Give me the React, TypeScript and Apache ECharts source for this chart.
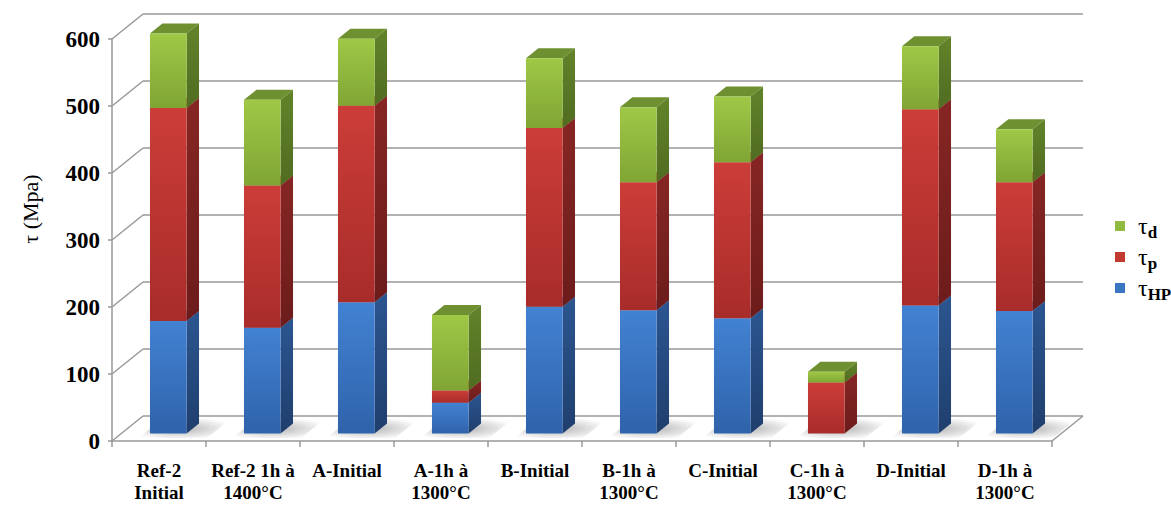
import React, { useEffect, useRef } from 'react';
import * as echarts from 'echarts';

const categories = [
  'Ref-2\nInitial', 'Ref-2 1h à\n1400°C', 'A-Initial', 'A-1h à\n1300°C', 'B-Initial',
  'B-1h à\n1300°C', 'C-Initial', 'C-1h à\n1300°C', 'D-Initial', 'D-1h à\n1300°C',
];
const tauHP = [168, 158, 196, 46, 189, 184, 172, 0, 191, 183];
const tauP = [318, 212, 293, 18, 267, 191, 233, 76, 293, 192];
const tauD = [111, 128, 100, 113, 104, 112, 98, 16, 94, 79];
const yTicks = [0, 100, 200, 300, 400, 500, 600];
const legendNames = ['τd', 'τp', 'τHP'];
const legendSubs: Record<string, string> = { 'τd': 'd', 'τp': 'p', 'τHP': 'HP' };

const DX = 31;
const DY = -25;
const BAR_FRONT = 0.3;
const BAR_BACK = 0.7;
const BAR_W = 0.39;
const SERIF = 'Liberation Serif';

type Pal = { front: [string, string]; side: [string, string]; top: string };
const bluePal: Pal = { front: ['#4282d2', '#2f63ab'], side: ['#2c5590', '#1f3f6d'], top: '#5a93d8' };
const redPal: Pal = { front: ['#cc3d38', '#a82c2a'], side: ['#862624', '#6c1c1b'], top: '#b8403c' };
const greenPal: Pal = { front: ['#9fc846', '#80a534'], side: ['#62832a', '#506c21'], top: '#6f9030' };

const lg = (a: string, b: string) =>
  new echarts.graphic.LinearGradient(0, 0, 0, 1, [
    { offset: 0, color: a },
    { offset: 1, color: b },
  ]);

const makeBar = (pal: Pal) => (params: any, api: any) => {
  const cat = api.value(0);
  const base = api.value(1);
  const top = api.value(2);
  if (top - base <= 0) return { type: 'group', children: [] };
  const pb = api.coord([cat, base]);
  const pt = api.coord([cat, top]);
  const w = api.size([1, 0])[0] * BAR_W;
  const x0 = pb[0] + DX * BAR_FRONT - w / 2;
  const x1 = x0 + w;
  const yb = pb[1] + DY * BAR_FRONT;
  const yt = pt[1] + DY * BAR_FRONT;
  const bx = DX * (BAR_BACK - BAR_FRONT);
  const by = DY * (BAR_BACK - BAR_FRONT);
  return {
    type: 'group',
    children: [
      {
        type: 'polygon',
        shape: { points: [[x0, yt], [x1, yt], [x1 + bx, yt + by], [x0 + bx, yt + by]] },
        style: { fill: pal.top },
      },
      {
        type: 'polygon',
        shape: { points: [[x1, yb], [x1 + bx, yb + by], [x1 + bx, yt + by], [x1, yt]] },
        style: { fill: lg(pal.side[0], pal.side[1]) },
      },
      {
        type: 'rect',
        shape: { x: x0, y: yt, width: w, height: yb - yt },
        style: { fill: lg(pal.front[0], pal.front[1]) },
      },
    ],
  };
};

const frameItem = (params: any, api: any) => {
  const v = api.value(1);
  const size = api.size([1, 0])[0];
  const p = api.coord([0, v]);
  const xl = p[0] - size / 2;
  const children: any[] = [
    {
      type: 'line',
      shape: { x1: xl, y1: p[1], x2: xl + DX, y2: p[1] + DY },
      style: { stroke: '#999', lineWidth: 1.5 },
    },
  ];
  if (params.dataIndex === 0) {
    const pr = api.coord([categories.length - 1, 0]);
    const xr = pr[0] + size / 2;
    children.push({
      type: 'line',
      shape: { x1: xr, y1: pr[1], x2: xr + DX, y2: pr[1] + DY },
      style: { stroke: '#999', lineWidth: 1.5 },
    });
  }
  return { type: 'group', children };
};

const shadowItem = (params: any, api: any) => {
  const cat = api.value(0);
  const p = api.coord([cat, 0]);
  const w = api.size([1, 0])[0] * BAR_W;
  const x0 = p[0] + DX * 0.2 - w / 2 - 6;
  const x1 = p[0] + DX * 0.2 + w / 2 + 26;
  const f = 0.12, b = 0.88;
  return {
    type: 'polygon',
    shape: {
      points: [
        [x0 + DX * (f - 0.2), p[1] + DY * f],
        [x1 + DX * (f - 0.2), p[1] + DY * f],
        [x1 + DX * (b - 0.2), p[1] + DY * b],
        [x0 + DX * (b - 0.2), p[1] + DY * b],
      ],
    },
    style: {
      fill: new echarts.graphic.RadialGradient(0.45, 0.5, 0.6, [
        { offset: 0, color: 'rgba(0,0,0,0.30)' },
        { offset: 1, color: 'rgba(0,0,0,0)' },
      ]),
    },
  };
};

export default function App() {
  const ref = useRef<HTMLDivElement>(null);
  useEffect(() => {
    if (!ref.current) return;
    const chart = echarts.init(ref.current, undefined, { renderer: 'svg' });
    const redBase = tauHP.map((v) => v);
    const greenBase = tauHP.map((v, i) => v + tauP[i]);
    chart.setOption({
      animation: false,
      backgroundColor: '#ffffff',
      textStyle: { fontFamily: SERIF },
      grid: [
        { left: 112, top: 39, width: 940, height: 402 },
        { left: 143, top: 14, width: 940, height: 402 },
      ],
      xAxis: [
        {
          type: 'category',
          gridIndex: 0,
          data: categories,
          axisLine: { show: true, lineStyle: { color: '#999', width: 1.5 } },
          axisTick: { show: true, length: 6, lineStyle: { color: '#999', width: 1.5 } },
          axisLabel: {
            interval: 0,
            margin: 18,
            fontFamily: SERIF,
            fontWeight: 'bold',
            fontSize: 19,
            lineHeight: 22,
            color: '#000',
          },
          splitLine: { show: false },
        },
        { type: 'category', gridIndex: 1, data: categories, show: false },
      ],
      yAxis: [
        {
          type: 'value',
          gridIndex: 0,
          min: 0,
          max: 600,
          interval: 100,
          axisLine: { show: true, lineStyle: { color: '#999', width: 1.5 } },
          axisTick: { show: true, length: 4, lineStyle: { color: '#999', width: 1.5 } },
          axisLabel: {
            margin: 12,
            fontFamily: SERIF,
            fontWeight: 'bold',
            fontSize: 23,
            color: '#000',
          },
          splitLine: { show: false },
        },
        {
          type: 'value',
          gridIndex: 1,
          min: 0,
          max: 600,
          interval: 100,
          axisLine: { show: false },
          axisTick: { show: false },
          axisLabel: { show: false },
          splitLine: { show: true, lineStyle: { color: '#999', width: 1.5 } },
        },
      ],
      legend: {
        data: legendNames,
        orient: 'vertical',
        left: 1110,
        top: 209,
        icon: 'rect',
        itemWidth: 10,
        itemHeight: 10,
        itemGap: 4,
        selectedMode: false,
        formatter: (name: string) => `{t|τ}{s|${legendSubs[name]}}`,
        textStyle: {
          fontFamily: SERIF,
          color: '#000',
          rich: {
            t: { fontFamily: SERIF, fontSize: 24, lineHeight: 30, verticalAlign: 'middle', padding: [0, 0, 0, 8], color: '#000' },
            s: { fontFamily: SERIF, fontSize: 17, fontWeight: 'bold', lineHeight: 14, verticalAlign: 'bottom', color: '#000' },
          },
        },
      },
      graphic: [
        {
          type: 'text',
          x: 30,
          y: 209,
          rotation: Math.PI / 2,
          style: {
            text: 'τ (Mpa)',
            fontFamily: SERIF,
            fontSize: 22,
            fill: '#000',
            align: 'center',
            verticalAlign: 'middle',
          },
        },
      ],
      series: [
        {
          type: 'custom',
          name: 'frame',
          xAxisIndex: 0,
          yAxisIndex: 0,
          silent: true,
          z: 1,
          renderItem: frameItem,
          encode: { x: 0, y: 1 },
          data: yTicks.map((v) => [0, v]),
        },
        {
          type: 'custom',
          name: 'shadow',
          xAxisIndex: 0,
          yAxisIndex: 0,
          silent: true,
          z: 2,
          renderItem: shadowItem,
          encode: { x: 0, y: 1 },
          data: categories.map((c, i) => [i, 0]),
        },
        {
          type: 'custom',
          name: 'τHP',
          xAxisIndex: 0,
          yAxisIndex: 0,
          z: 3,
          itemStyle: { color: '#3a75c4' },
          renderItem: makeBar(bluePal),
          encode: { x: 0, y: [1, 2] },
          data: tauHP.map((v, i) => [i, 0, v]),
        },
        {
          type: 'custom',
          name: 'τp',
          xAxisIndex: 0,
          yAxisIndex: 0,
          z: 4,
          itemStyle: { color: '#c0392f' },
          renderItem: makeBar(redPal),
          encode: { x: 0, y: [1, 2] },
          data: tauP.map((v, i) => [i, redBase[i], redBase[i] + v]),
        },
        {
          type: 'custom',
          name: 'τd',
          xAxisIndex: 0,
          yAxisIndex: 0,
          z: 5,
          itemStyle: { color: '#8fbb3e' },
          renderItem: makeBar(greenPal),
          encode: { x: 0, y: [1, 2] },
          data: tauD.map((v, i) => [i, greenBase[i], greenBase[i] + v]),
        },
      ],
    });
    return () => chart.dispose();
  }, []);
  return (
    <div
      ref={ref}
      style={{ position: 'fixed', left: 0, top: 0, width: 1171, height: 506, background: '#fff' }}
    />
  );
}
